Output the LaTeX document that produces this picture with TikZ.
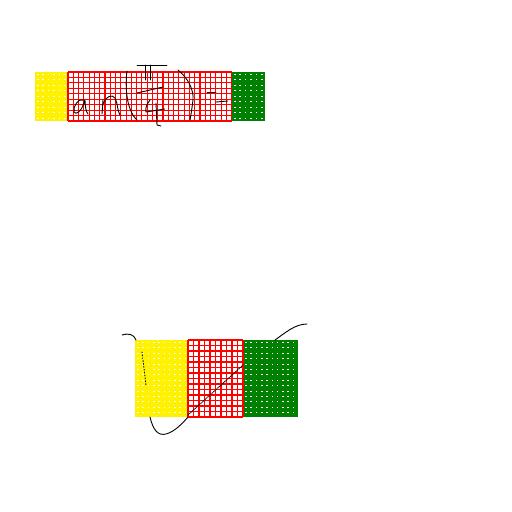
\documentclass[tikz,border=0pt]{standalone}
\begin{document}
\begin{tikzpicture}[x=1pt,y=-1pt,
  ink/.style={black,line width=0.9pt,line cap=round,line join=round},
  gridline/.style={red,line width=1.1pt}]
\useasboundingbox (0,0) rectangle (512,512);
\fill[white] (0,0) rectangle (512,512);
% ---------- top strip ----------
\fill[yellow] (35,72) rectangle (68,121);
\fill[white] (68,72) rectangle (232,121);
\fill[green!50!black] (232,72) rectangle (265,121);
\foreach \i in {0,...,31} \draw[gridline] ({68+\i*5.28},72) -- ({68+\i*5.28},121);
\foreach \j in {0,...,9} \draw[gridline] (68,{72+\j*5.44}) -- (232,{72+\j*5.44});
\foreach \i in {0,...,5} \foreach \j in {0,...,8} {
  \fill[white] ({37+\i*5.4},{74+\j*5.44}) rectangle +(1.6,1);
  \fill[white] ({234+\i*5.4},{74+\j*5.44}) rectangle +(1.6,1);
}
% handwriting a n ( pi/4 ) =
\draw[ink] (84,100) .. controls (78,98) and (73,106) .. (74,112) .. controls (76,116) and (82,110) .. (84,103) -- (85,100) .. controls (85,106) and (86,112) .. (88,114);
\draw[ink] (103,100) -- (102,114);
\draw[ink] (103,104) .. controls (106,96) and (112,94) .. (115,98) .. controls (118,104) and (117,110) .. (120,115);
\draw[ink] (127,71) .. controls (125,85) and (126,110) .. (137,120);
\draw[ink] (137,65) -- (167,65);
\draw[ink] (145,65) -- (145,80);
\draw[ink] (150,65) -- (150,80);
\draw[ink] (137,93) -- (163,87);
\draw[ink] (150,100) .. controls (147,104) and (145,108) .. (146,112) -- (165,109);
\draw[ink] (156,103) -- (157,125) -- (161,126);
\draw[ink] (178,70) .. controls (188,78) and (194,90) .. (193,100) .. controls (192,108) and (191,115) .. (190,120);
\draw[ink] (207,92) -- (216,92);
\draw[ink] (216,102) -- (228,101);
% ---------- bottom block ----------
\fill[yellow] (135,340) rectangle (188,417);
\fill[white] (188,340) rectangle (243,417);
\fill[green!50!black] (243,340) rectangle (298,417);
\foreach \i in {0,...,10} \draw[gridline] ({188+\i*5.5},340) -- ({188+\i*5.5},417);
\foreach \j in {0,...,14} \draw[gridline] (188,{340+\j*5.5}) -- (243,{340+\j*5.5});
\foreach \i in {0,...,9} \foreach \j in {0,...,13} {
  \fill[white] ({137+\i*5.3},{342+\j*5.4}) rectangle +(1.6,1);
  \fill[white] ({245+\i*5.3},{342+\j*5.4}) rectangle +(1.6,1);
}
\draw[ink] (122,335) .. controls (128,333) and (134,334) .. (136,340);
\draw[ink,dotted] (142,352) -- (146,385);
\draw[ink] (150,417) .. controls (153,430) and (158,436) .. (166,434) .. controls (174,432) and (182,424) .. (188,417);
\draw[ink,densely dotted] (188,415) -- (243,365);
\draw[ink] (275,340) .. controls (285,333) and (295,324) .. (307,324);
\end{tikzpicture}
\end{document}
